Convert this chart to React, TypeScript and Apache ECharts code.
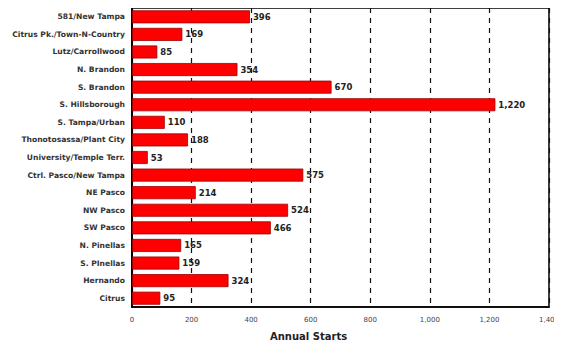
import React, { useEffect, useRef } from "react";
import * as echarts from "echarts";

const categories = [
  "581/New Tampa",
  "Citrus Pk./Town-N-Country",
  "Lutz/Carrollwood",
  "N. Brandon",
  "S. Brandon",
  "S. Hillsborough",
  "S. Tampa/Urban",
  "Thonotosassa/Plant City",
  "University/Temple Terr.",
  "Ctrl. Pasco/New Tampa",
  "NE Pasco",
  "NW Pasco",
  "SW Pasco",
  "N. Pinellas",
  "S. PInellas",
  "Hernando",
  "Citrus",
];
const annualStarts = [396, 169, 85, 354, 670, 1220, 110, 188, 53, 575, 214, 524, 466, 165, 159, 324, 95];
const xTicks = [0, 200, 400, 600, 800, 1000, 1200, 1400];
const axisTitle = "Annual Starts";

export default function App() {
  const ref = useRef<HTMLDivElement>(null);
  useEffect(() => {
    if (!ref.current) return;
    const chart = echarts.init(ref.current, undefined, { renderer: "svg" });
    const font = "'DejaVu Sans', Verdana, sans-serif";
    chart.setOption({
      animation: false,
      backgroundColor: "#ffffff",
      grid: { left: 132, right: 9, top: 8, bottom: 39, containLabel: false, show: true, borderColor: "#000", borderWidth: 1.5, backgroundColor: "transparent" },
      xAxis: {
        type: "value",
        min: xTicks[0],
        max: xTicks[xTicks.length - 1],
        interval: 200,
        axisLine: { show: true, lineStyle: { color: "#000", width: 1.5 } },
        axisTick: { show: false },
        axisLabel: {
          fontFamily: font,
          fontSize: 7,
          color: "#444",
          margin: 9,
          formatter: (v: number) => v.toLocaleString("en-US"),
        },
        splitLine: { show: true, lineStyle: { color: "#111", type: [5, 5], width: 1.2 } },
      },
      yAxis: {
        type: "category",
        data: categories,
        inverse: true,
        axisLine: { show: true, lineStyle: { color: "#000", width: 2 } },
        axisTick: { show: false },
        axisLabel: { fontFamily: font, fontSize: 7.6, fontWeight: "bold", color: "#333", margin: 7 },
      },
      series: [
        {
          type: "bar",
          data: annualStarts,
          barCategoryGap: "26%",
          itemStyle: { color: "#ff0000", borderColor: "#a00000", borderWidth: 0.8 },
          label: {
            show: true,
            position: "right",
            distance: 3,
            fontFamily: font,
            fontSize: 8.5,
            fontWeight: "bold",
            color: "#222",
            formatter: (p: any) => Number(p.value).toLocaleString("en-US"),
          },
          z: 1,
        },
      ],
      graphic: [
        {
          type: "text",
          left: 270,
          top: 331,
          style: { text: axisTitle, fontFamily: font, fontSize: 10, fontWeight: "bold", fill: "#222" },
        },
      ],
    });
    return () => chart.dispose();
  }, []);
  return <div ref={ref} style={{ width: 562, height: 346, marginLeft: -8, marginTop: -8 }} />;
}
